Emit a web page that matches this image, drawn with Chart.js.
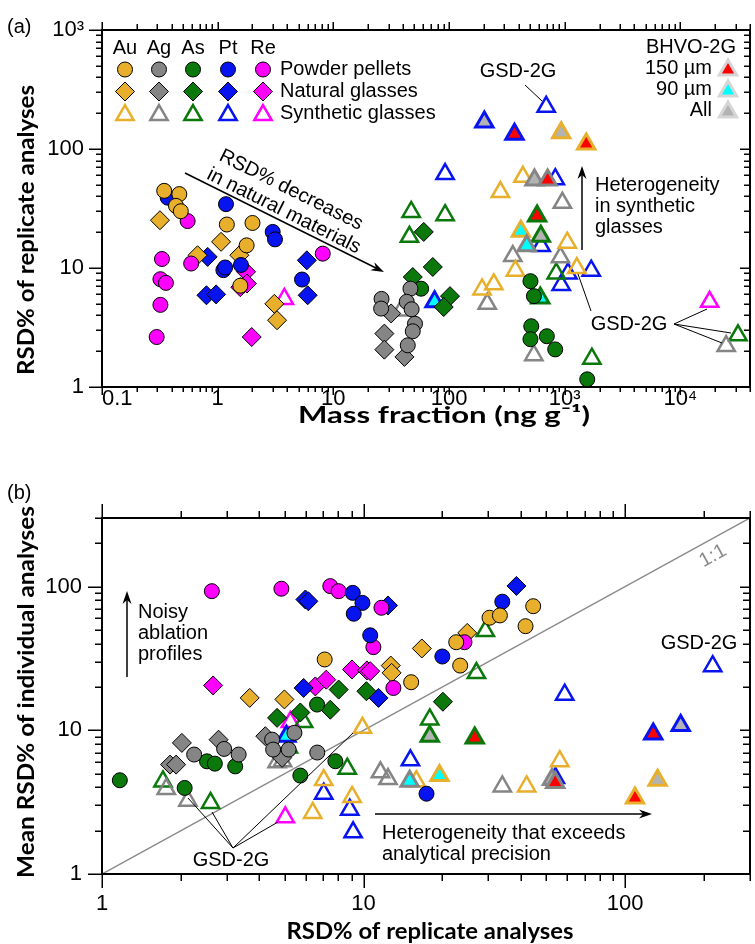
<!DOCTYPE html>
<html>
<head>
<meta charset="utf-8">
<script src="https://cdn.jsdelivr.net/npm/chart.js@4.4.0/dist/chart.umd.min.js"></script>
<style>
  html, body { margin: 0; padding: 0; background: #fff; }
  #wrap { position: relative; width: 755px; height: 944px; }
  canvas { position: absolute; left: 0; }
  #chartA { top: 0; }
  #chartB { top: 470px; }
</style>
</head>
<body>
<div id="wrap">
  <canvas id="chartA" width="755" height="470"></canvas>
  <canvas id="chartB" width="755" height="474"></canvas>
</div>
<script>
// ---- categories ----
const ELEMENTS = ['Au', 'Ag', 'As', 'Pt', 'Re'];
const MATERIALS = ['Powder pellets', 'Natural glasses', 'Synthetic glasses'];
const BHVO_SIZES = ['150 µm', '90 µm', 'All'];

// ---- panel (a): [mass fraction ng/g, RSD% of replicate analyses] ----
const aAuPellets = [[0.345, 44.5], [0.466, 41.8], [0.436, 33.3], [0.48, 30], [1.2, 23.2], [2.0, 23.9], [1.78, 15.5], [1.57, 7.1]];
const aAgPellets = [[46.4, 6.7], [26.1, 5.5], [25.9, 4.56], [43.1, 5.2], [47.5, 4.5], [50.8, 3.4], [48.6, 2.94], [44, 2.24]];
const aAsPellets = [[57.4, 6.7], [506, 7.75], [542, 5.8], [514, 3.24], [506, 2.52], [701, 2.67], [828, 2.07], [1566, 1.16]];
const aPtPellets = [[0.37, 39], [1.18, 34.4], [1.12, 9.6], [1.16, 10.1], [1.59, 10.6], [2.99, 20.1], [3.13, 17.4], [5.36, 8.0]];
const aRePellets = [[0.55, 24.8], [0.33, 11.9], [0.59, 10.9], [0.32, 8.05], [0.357, 7.5], [0.32, 4.9], [0.297, 2.63], [8.1, 13.2]];

const aAuGlasses = [[0.317, 25.2], [1.07, 16.6], [0.67, 12.8], [1.54, 12.8], [3.09, 5.0], [3.26, 3.64]];
const aAgGlasses = [[31.6, 4.15], [27.6, 2.81], [27.6, 2.06], [41.2, 1.79]];
const aAsGlasses = [[60.5, 20.1], [72.4, 10.2], [48.6, 8.4], [102, 5.8], [90, 4.7]];
const aPtGlasses = [[0.82, 12.4], [0.80, 5.9], [0.97, 6.0], [5.9, 11.6], [6.0, 5.9]];
const aReGlasses = [[1.76, 9.3], [1.57, 6.9], [1.79, 7.4], [1.97, 2.63]];

const aAuSynth = [[278, 43.5], [435, 58.4], [193, 6.6], [244, 7.3], [375, 9.5], [1052, 16.3], [1274, 10]];
const aAgSynth = [[955, 35.3], [356, 12.6], [919, 12.3], [214, 5.0], [541, 1.85], [24900, 2.21], [38.5, 4.4]];
const aAsSynth = [[47.1, 29.6], [92.5, 27.8], [45.5, 18.3], [845, 9.0], [31500, 2.72], [1718, 1.73]];
const aPtSynth = [[692, 226], [92.5, 61.5], [829, 55.8], [626, 15.3], [1067, 9.0], [1695, 9.5], [933, 7.2]];
const aReSynth = [[3.77, 5.5], [17900, 5.2]];

// BHVO-2G: [element, x, y]
const aBhvo150 = [['Au', 1535, 110], ['Ag', 712, 54.8], ['As', 577, 27.3], ['Pt', 368, 133]];
const aBhvo90 = [['Au', 418, 20.4], ['Ag', 470, 15.4], ['As', 615, 5.6], ['Pt', 75, 5.2]];
const aBhvoAll = [['Au', 933, 137], ['Ag', 548, 54.8], ['As', 622, 18.5], ['Pt', 202, 169]];

// ---- panel (b): [RSD% of replicate analyses, mean RSD% of individual analyses] ----
const bAuPellets = [[7.1, 31.1], [15.2, 21.6], [22.6, 41], [23.4, 28.2], [30.3, 60.7], [33.2, 63], [41.6, 53], [44.5, 73]];
const bAgPellets = [[2.25, 6.78], [2.93, 7.42], [3.33, 6.78], [4.47, 8.61], [4.51, 7.34], [5.17, 7.34], [5.44, 9.6], [6.65, 7.0]];
const bAsPellets = [[1.17, 4.49], [2.07, 3.97], [2.52, 6.08], [2.7, 5.86], [3.23, 5.61], [5.73, 4.84], [6.64, 15.1], [7.8, 6.09]];
const bPtPellets = [[9.09, 90.4], [9.9, 77], [9.17, 64.7], [10.6, 45.8], [20, 32.6], [33.9, 78.5], [17.4, 3.62]];
const bRePellets = [[2.63, 92.9], [4.85, 96.6], [7.46, 100.7], [8.03, 92.9], [10.9, 37.9], [11.7, 71.2], [13.0, 19.7], [24.3, 41]];

const bAuGlasses = [[3.67, 16.8], [4.98, 16.4], [12.7, 28.2], [12.8, 25.1], [16.7, 37.1], [24.9, 47.6]];
const bAgGlasses = [[2.02, 8.17], [2.79, 8.6], [4.21, 9.1], [1.82, 5.77], [1.92, 5.77], [4.88, 6.43]];
const bAsGlasses = [[4.67, 12.2], [5.73, 13.3], [7.46, 13.9], [8.03, 19.2], [10.25, 18.7], [20.1, 15.8]];
const bPtGlasses = [[5.99, 81.3], [6.15, 79], [12.4, 73.9], [38.4, 101], [5.9, 19.7], [11.4, 16.8]];
const bReGlasses = [[2.66, 20.5], [6.54, 20.2], [7.2, 22.5], [9.03, 26.5], [10.3, 26.1], [10.6, 25.8]];

const bAuSynth = [[9.9, 10.4], [7.04, 4.5], [6.39, 2.66], [9.04, 3.44], [15.9, 4.42], [42, 4.07], [56.2, 6.09]];
const bAgSynth = [[1.76, 3.91], [2.13, 3.24], [4.67, 6.0], [4.9, 6.1], [11.6, 5.1], [12.4, 4.58], [33.9, 4.07]];
const bAsSynth = [[1.71, 4.41], [2.6, 3.12], [5.9, 11.4], [8.66, 5.4], [17.9, 11.9], [27, 25], [29.2, 49], [5.16, 7.6]];
const bPtSynth = [[7.04, 3.62], [8.85, 2.8], [9.12, 1.95], [15.1, 6.18], [54.1, 4.66], [58.7, 17.7], [216, 27.9]];
const bReSynth = [[5.25, 11.4], [5.02, 2.48]];

const bBhvo150 = [['Au', 109, 3.38], ['Ag', 54, 4.34], ['As', 26.6, 8.85], ['Pt', 128, 9.44]];
const bBhvo90 = [['Au', 19.5, 4.84], ['Ag', 15.0, 4.42], ['Pt', 5.07, 9.08]];
const bBhvoAll = [['Au', 133, 4.49], ['Ag', 52.5, 4.55], ['As', 17.9, 9.08], ['Pt', 163, 10.8]];

const oneToOne = [[1, 1], [300, 300]];

// ---- tick labels ----
const aXMajor = [0.1, 1, 10, 100, 1000, 10000];
const aXLabels = ['0.1', '1', '10', '100', '10³', '10⁴'];
const aYMajor = [1, 10, 100, 1000];
const aYLabels = ['1', '10', '100', '10³'];
const bXMajor = [1, 10, 100];
const bXLabels = ['1', '10', '100'];
const bYMajor = [1, 10, 100];
const bYLabels = ['1', '10', '100'];

// ---- styles ----
const COLORS = { Au: '#e8af2c', Ag: '#858585', As: '#0b780b', Pt: '#0814f0', Re: '#ff00ff' };
const BHVO_FILL = { '150 µm': '#ff0000', '90 µm': '#00ffff', 'All': '#b3b3b3' };
const FONT = '"Liberation Sans", Arial, sans-serif';
const TITLE_FONT = 'bold 23px Lato, "DejaVu Sans", sans-serif';

function logTicks(min, max) {
    const out = [];
    for (let e = Math.floor(Math.log10(min)); e <= Math.ceil(Math.log10(max)); e++) {
        for (let k = 1; k <= 9; k++) {
            const v = parseFloat((k * Math.pow(10, e)).toPrecision(6));
            if (v >= min * 0.999999 && v <= max * 1.000001) out.push(v);
        }
    }
    return out;
}

function labelFor(v, majors, labels) {
    const i = majors.findIndex(m => Math.abs(m - v) / m < 1e-6);
    return i >= 0 ? labels[i] : '';
}

const pts = arr => arr.map(([x, y]) => ({ x, y }));

function buildDatasets(pellets, glasses, synth, bhvo, extra) {
    const ds = [];
    ELEMENTS.forEach(el => ds.push({
        label: el + ' ' + MATERIALS[0], data: pts(pellets[el]),
        pointStyle: 'circle', pointRadius: 7.5, pointBorderWidth: 1,
        pointBorderColor: '#000', pointBackgroundColor: COLORS[el]
    }));
    ELEMENTS.forEach(el => ds.push({
        label: el + ' ' + MATERIALS[1], data: pts(glasses[el]),
        pointStyle: 'rectRot', pointRadius: 9.5, pointBorderWidth: 1,
        pointBorderColor: '#000', pointBackgroundColor: COLORS[el]
    }));
    BHVO_SIZES.forEach((size, i) => ds.push({
        label: 'BHVO-2G ' + size, data: bhvo[i].map(([el, x, y]) => ({ x, y })),
        pointStyle: 'triangle', pointRadius: 10, pointBorderWidth: 3,
        pointBorderColor: bhvo[i].map(([el]) => COLORS[el]), pointBackgroundColor: BHVO_FILL[size]
    }));
    ELEMENTS.forEach(el => ds.push({
        label: el + ' ' + MATERIALS[2], data: pts(synth[el]),
        pointStyle: 'triangle', pointRadius: 10, pointBorderWidth: 2.5,
        pointBorderColor: COLORS[el], pointBackgroundColor: 'rgba(0,0,0,0)'
    }));
    if (extra) ds.push(extra);
    return ds;
}

// ---- drawing helpers for annotations ----
function text(ctx, s, x, y, align, font, color) {
    ctx.font = font || ('20px ' + FONT);
    ctx.fillStyle = color || '#000';
    ctx.textAlign = align || 'center';
    ctx.textBaseline = 'middle';
    ctx.fillText(s, x, y);
}

// bold axis title stretched to the width it has in the figure
function title(ctx, s, x, y, width, rot) {
    ctx.save();
    ctx.translate(x, y);
    if (rot) ctx.rotate(rot);
    ctx.font = TITLE_FONT;
    const w = ctx.measureText(s).width;
    ctx.scale(width / w, 1);
    text(ctx, s, 0, 0, 'center', TITLE_FONT);
    ctx.restore();
}

function line(ctx, x1, y1, x2, y2, w) {
    ctx.strokeStyle = '#000';
    ctx.lineWidth = w || 1;
    ctx.beginPath(); ctx.moveTo(x1, y1); ctx.lineTo(x2, y2); ctx.stroke();
}

function arrow(ctx, x1, y1, x2, y2) {
    const a = Math.atan2(y2 - y1, x2 - x1), L = 13, W = 4.5, N = 4;
    line(ctx, x1, y1, x2 - Math.cos(a) * (L - N), y2 - Math.sin(a) * (L - N), 1.5);
    ctx.save();
    ctx.translate(x2, y2); ctx.rotate(a);
    ctx.fillStyle = '#000';
    ctx.beginPath(); ctx.moveTo(0, 0); ctx.lineTo(-L, -W); ctx.lineTo(-L + N, 0); ctx.lineTo(-L, W); ctx.closePath();
    ctx.fill();
    ctx.restore();
}

function marker(ctx, style, x, y, fill, stroke, bw) {
    ctx.beginPath();
    if (style === 'circle') {
        ctx.arc(x, y, 7.5, 0, Math.PI * 2);
    } else if (style === 'rectRot') {
        const r = 9.5;
        ctx.moveTo(x - r, y); ctx.lineTo(x, y - r); ctx.lineTo(x + r, y); ctx.lineTo(x, y + r);
    } else {
        const r = 10;
        for (let k = 0; k < 3; k++) {
            const a = k * 2 * Math.PI / 3;
            const px = x + Math.sin(a) * r, py = y - Math.cos(a) * r;
            k === 0 ? ctx.moveTo(px, py) : ctx.lineTo(px, py);
        }
    }
    ctx.closePath();
    ctx.fillStyle = fill;
    ctx.fill();
    ctx.lineWidth = bw;
    ctx.strokeStyle = stroke;
    ctx.stroke();
}

// frame and log ticks on all four sides
function frameTicks(chart, len) {
    const { ctx, chartArea: ca, scales: { x, y } } = chart;
    ctx.save();
    ctx.strokeStyle = '#000';
    ctx.lineWidth = 1.5;
    ctx.beginPath();
    x.ticks.forEach(t => {
        const px = Math.round(x.getPixelForValue(t.value)) + 0.25;
        const major = t.label !== '';
        const lb = major ? len.bottom[0] : len.bottom[1];
        const lt = major ? len.top[0] : len.top[1];
        ctx.moveTo(px, ca.bottom); ctx.lineTo(px, ca.bottom + lb);
        ctx.moveTo(px, ca.top); ctx.lineTo(px, ca.top - lt);
    });
    y.ticks.forEach(t => {
        const py = Math.round(y.getPixelForValue(t.value)) + 0.25;
        const major = t.label !== '';
        const ll = major ? len.left[0] : len.left[1];
        const lr = major ? len.right[0] : len.right[1];
        ctx.moveTo(ca.left, py); ctx.lineTo(ca.left - ll, py);
        ctx.moveTo(ca.right, py); ctx.lineTo(ca.right - lr, py);
    });
    ctx.stroke();
    ctx.lineWidth = 2;
    ctx.strokeRect(ca.left, ca.top, ca.right - ca.left, ca.bottom - ca.top);
    ctx.restore();
}

function chartOptions(cfg) {
    return {
        responsive: false,
        animation: false,
        events: [],
        layout: { autoPadding: false, padding: { top: cfg.top, right: 5, left: 0, bottom: 0 } },
        plugins: { legend: { display: false }, tooltip: { enabled: false } },
        scales: {
            x: {
                type: 'logarithmic', position: 'bottom', min: cfg.xMin, max: cfg.xMax,
                afterBuildTicks: s => { s.ticks = logTicks(cfg.xMin, cfg.xMax).map(v => ({ value: v })); },
                afterFit: s => { s.height = cfg.xHeight; s.paddingLeft = 0; s.paddingRight = 0; },
                grid: { display: false, drawTicks: false },
                border: { display: false },
                ticks: {
                    autoSkip: false, maxRotation: 0, minRotation: 0, align: cfg.xAlign, padding: cfg.xPad,
                    color: '#000', font: { family: FONT, size: 22 },
                    callback: v => labelFor(v, cfg.xMajor, cfg.xLabels)
                }
            },
            y: {
                type: 'logarithmic', position: 'left', min: cfg.yMin, max: cfg.yMax,
                afterBuildTicks: s => { s.ticks = logTicks(cfg.yMin, cfg.yMax).map(v => ({ value: v })); },
                afterFit: s => { s.width = 102; s.paddingTop = 0; s.paddingBottom = 0; },
                grid: { display: false, drawTicks: false },
                border: { display: false },
                ticks: {
                    autoSkip: false, padding: cfg.yPad,
                    color: '#000', font: { family: FONT, size: 22 },
                    callback: v => labelFor(v, cfg.yMajor, cfg.yLabels)
                }
            }
        }
    };
}

// ---- panel (a) ----
const annotateA = {
    id: 'annotateA',
    afterDraw(chart) {
        const ctx = chart.ctx;
        frameTicks(chart, { bottom: [8, 5], top: [8, 6], left: [13, 6], right: [10, 6] });
        ctx.save();
        text(ctx, '(a)', 7, 27, 'left');
        // legend grid
        const cols = [125, 159, 193, 228, 263];
        ELEMENTS.forEach((el, i) => {
            text(ctx, el, cols[i], 48);
            marker(ctx, 'circle', cols[i], 69.5, COLORS[el], '#000', 1);
            marker(ctx, 'rectRot', cols[i], 91.5, COLORS[el], '#000', 1);
            marker(ctx, 'triangle', cols[i], 115, 'rgba(0,0,0,0)', COLORS[el], 2.5);
        });
        MATERIALS.forEach((m, i) => text(ctx, m, 280, [69, 91, 113][i], 'left'));
        // BHVO-2G legend
        text(ctx, 'BHVO-2G', 736, 47, 'right');
        BHVO_SIZES.forEach((size, i) => {
            const yy = [68, 89, 110][i];
            text(ctx, size, 712, yy, 'right');
            marker(ctx, 'triangle', 728, yy + 2, BHVO_FILL[size], '#d6d6d6', 3);
        });
        // GSD-2G labels
        text(ctx, 'GSD-2G', 518, 71);
        line(ctx, 525, 85, 542, 101);
        text(ctx, 'GSD-2G', 629, 324);
        line(ctx, 591, 311, 578, 274);
        line(ctx, 674, 324, 707, 309);
        line(ctx, 674, 324, 731, 333);
        line(ctx, 674, 324, 722, 343);
        // heterogeneity arrow
        arrow(ctx, 582, 250, 582, 166);
        ['Heterogeneity', 'in synthetic', 'glasses'].forEach((s, i) => text(ctx, s, 595, 185 + i * 21, 'left'));
        // decreasing RSD arrow and rotated text
        arrow(ctx, 185, 173, 384, 272);
        ctx.save();
        ctx.translate(291, 190);
        ctx.rotate(26.5 * Math.PI / 180);
        text(ctx, 'RSD% decreases', 0, 0);
        text(ctx, 'in natural materials', 3, 22);
        ctx.restore();
        // axis titles
        title(ctx, 'Mass fraction (ng g⁻¹)', 444, 416, 292);
        title(ctx, 'RSD% of replicate analyses', 27, 230, 290, -Math.PI / 2);
        ctx.restore();
    }
};

new Chart(document.getElementById('chartA'), {
    type: 'scatter',
    data: {
        datasets: buildDatasets(
            { Au: aAuPellets, Ag: aAgPellets, As: aAsPellets, Pt: aPtPellets, Re: aRePellets },
            { Au: aAuGlasses, Ag: aAgGlasses, As: aAsGlasses, Pt: aPtGlasses, Re: aReGlasses },
            { Au: aAuSynth, Ag: aAgSynth, As: aAsSynth, Pt: aPtSynth, Re: aReSynth },
            [aBhvo150, aBhvo90, aBhvoAll]
        )
    },
    options: chartOptions({
        top: 30, xHeight: 83, xMin: 0.1, xMax: 40000, yMin: 1, yMax: 1000,
        xMajor: aXMajor, xLabels: aXLabels, yMajor: aYMajor, yLabels: aYLabels,
        xAlign: 'inner', xPad: -1, yPad: 18
    }),
    plugins: [annotateA]
});

// ---- panel (b) ----
const annotateB = {
    id: 'annotateB',
    afterDraw(chart) {
        const ctx = chart.ctx;
        frameTicks(chart, { bottom: [14, 7], top: [14, 7], left: [14, 7], right: [10, 7] });
        ctx.save();
        text(ctx, '(b)', 7, 23, 'left');
        // noisy ablation
        arrow(ctx, 127, 207, 127, 121);
        ['Noisy', 'ablation', 'profiles'].forEach((s, i) => text(ctx, s, 138, 142 + i * 21, 'left'));
        // 1:1 label
        ctx.save();
        ctx.translate(713, 86);
        ctx.rotate(-Math.atan(143.6 / 261.5));
        text(ctx, '1:1', 0, 0, 'center', '20px ' + FONT, '#8a8a8a');
        ctx.restore();
        text(ctx, 'GSD-2G', 699, 173);
        // heterogeneity arrow
        arrow(ctx, 375, 344, 652, 344);
        text(ctx, 'Heterogeneity that exceeds', 382, 363, 'left');
        text(ctx, 'analytical precision', 382, 384, 'left');
        // GSD-2G leader lines
        text(ctx, 'GSD-2G', 231, 390);
        line(ctx, 233, 378, 188, 328);
        line(ctx, 233, 378, 212, 342);
        line(ctx, 233, 378, 353, 263);
        line(ctx, 233, 378, 278, 352);
        // axis titles
        title(ctx, 'RSD% of replicate analyses', 430, 462, 287);
        title(ctx, 'Mean RSD% of individual analyses', 27, 222, 372, -Math.PI / 2);
        ctx.restore();
    }
};

new Chart(document.getElementById('chartB'), {
    type: 'scatter',
    data: {
        datasets: buildDatasets(
            { Au: bAuPellets, Ag: bAgPellets, As: bAsPellets, Pt: bPtPellets, Re: bRePellets },
            { Au: bAuGlasses, Ag: bAgGlasses, As: bAsGlasses, Pt: bPtGlasses, Re: bReGlasses },
            { Au: bAuSynth, Ag: bAgSynth, As: bAsSynth, Pt: bPtSynth, Re: bReSynth },
            [bBhvo150, bBhvo90, bBhvoAll],
            {
                label: '1:1', data: pts(oneToOne), showLine: true,
                borderColor: '#8a8a8a', borderWidth: 1.5, pointRadius: 0
            }
        )
    },
    options: chartOptions({
        top: 48, xHeight: 70, xMin: 1, xMax: 300, yMin: 1, yMax: 300,
        xMajor: bXMajor, xLabels: bXLabels, yMajor: bYMajor, yLabels: bYLabels,
        xAlign: 'center', xPad: 17, yPad: 20
    }),
    plugins: [annotateB]
});
</script>
</body>
</html>
